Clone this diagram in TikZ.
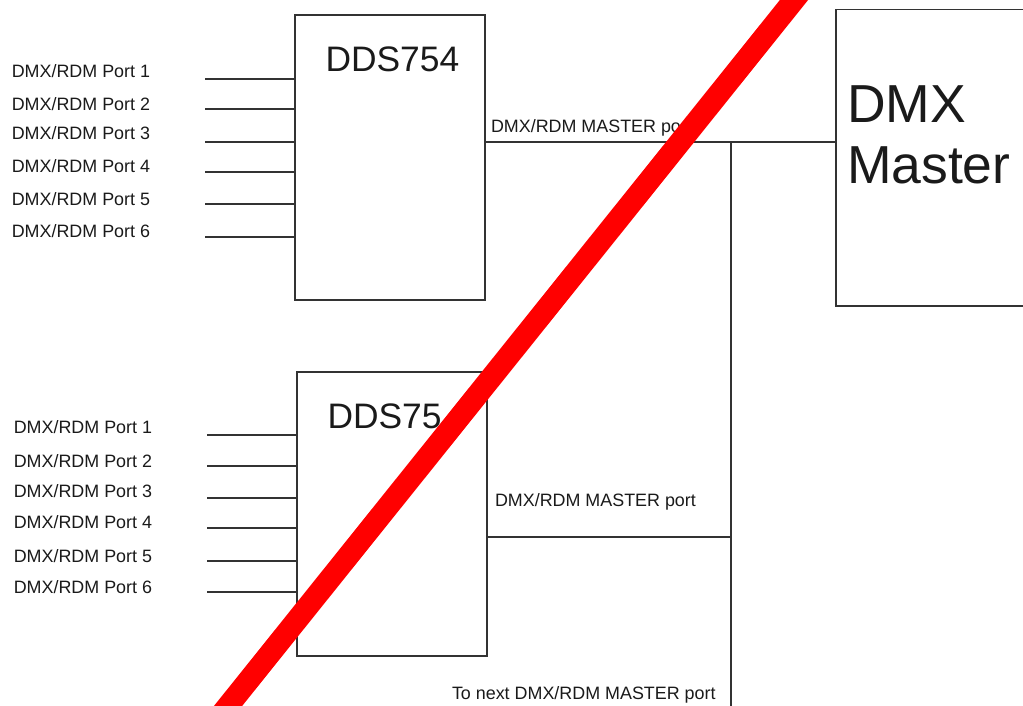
\documentclass[tikz,border=0pt]{standalone}
\usepackage{fontspec}
\setmainfont{Liberation Sans}
\definecolor{linegray}{HTML}{333333}
\definecolor{textdark}{HTML}{1A1A1A}
\definecolor{crossred}{RGB}{255,0,0}
\begin{document}
\begin{tikzpicture}[x=1pt,y=-1pt,
  box/.style={draw=linegray, line width=1.3pt, fill=none, outer sep=0pt, inner sep=0pt, anchor=north west},
  wire/.style={draw=linegray, line width=1.3pt},
  lbl/.style={anchor=base west, inner sep=0pt, outer sep=0pt, text=textdark, font=\fontsize{17.9}{20}\selectfont},
  title/.style={anchor=base west, inner sep=0pt, outer sep=0pt, text=textdark, font=\fontsize{35.4}{40}\selectfont},
  big/.style={anchor=base west, inner sep=0pt, outer sep=0pt, text=textdark, font=\fontsize{53.5}{60}\selectfont},
  cross/.style={draw=crossred, line width=22pt}]
\useasboundingbox (0,0) rectangle (1023,706);
\clip (0,0) rectangle (1023,706);

% boxes
\node[box, minimum width=190pt, minimum height=285pt] (dds1) at (295,15) {};
\node[box, minimum width=190pt, minimum height=284pt] (dds2) at (297,372) {};
\node[box, minimum width=200pt, minimum height=296.5pt] (master) at (836,9.5) {};

% box titles
\node[title] (t1) at (325.5,72) {DDS754};
\node[title] (t2) at (327.5,428) {DDS75};
\node[big] (m1) at (847,123) {DMX};
\node[big] (m2) at (847,183) {Master};

% top port wires and labels
\foreach \i/\y/\b in {1/79/77.3, 2/109/111, 3/142/140, 4/172/172.5, 5/204/205, 6/237/237.5}{
  \coordinate (pa\i) at (205,\y);
  \draw[wire] (pa\i) -- (pa\i -| dds1.west);
  \node[lbl] (la\i) at (11.8,\b) {DMX/RDM Port \i};
}
% bottom port wires and labels
\foreach \i/\y/\b in {1/435/433, 2/466/467, 3/498/497, 4/528/528, 5/561/562, 6/592/593}{
  \coordinate (pb\i) at (207,\y);
  \draw[wire] (pb\i) -- (pb\i -| dds2.west);
  \node[lbl] (lb\i) at (13.8,\b) {DMX/RDM Port \i};
}

% master bus
\coordinate (j1) at (731,142);
\coordinate (j2) at (731,537);
\coordinate (jend) at (731,712);
\draw[wire] (dds1.east |- j1) -- (master.west |- j1);
\draw[wire] (j1) -- (jend);
\draw[wire] (dds2.east |- j2) -- (j2);

% master port labels
\node[lbl] (mp1) at (491,133) {DMX/RDM MASTER po};
\node[lbl] (mp2) at (495,506) {DMX/RDM MASTER port};
\node[lbl] (nx) at (452,699) {To next DMX/RDM MASTER port};

% red cross-out stroke
\coordinate (rA) at (802,-10);
\coordinate (rB) at (220,716);
\draw[cross] (rA) -- (rB);
\end{tikzpicture}
\end{document}
